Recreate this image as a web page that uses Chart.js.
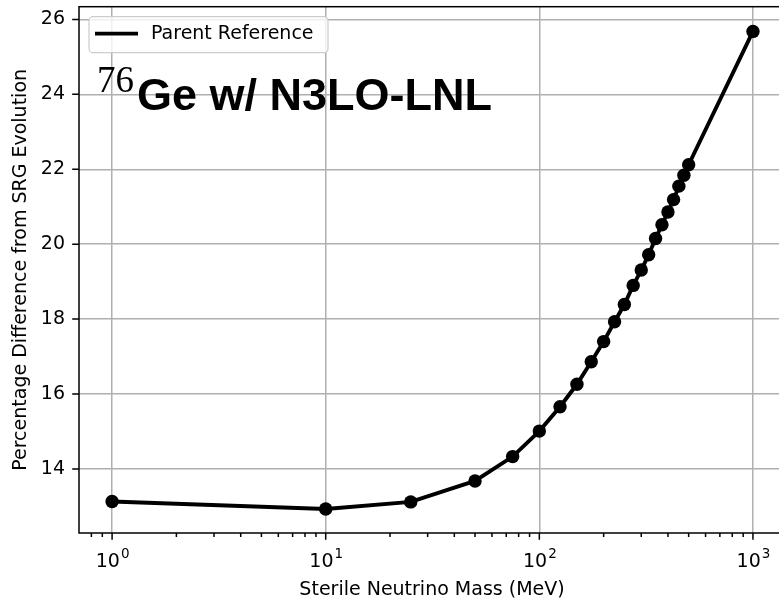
<!DOCTYPE html>
<html>
<head>
<meta charset="utf-8">
<script src="https://cdn.jsdelivr.net/npm/chart.js@4.4.1/dist/chart.umd.min.js"></script>
<style>
  html, body { margin: 0; padding: 0; background: #fff; overflow: hidden; }
  #wrap { width: 779px; height: 601px; overflow: hidden; }
</style>
</head>
<body>
<div id="wrap"><canvas id="srgChart" width="800" height="601"></canvas></div>
<script>
// sterile neutrino mass (MeV) and % difference from SRG evolution
const masses = [1, 10, 25, 50, 75, 100, 125, 150, 175, 200, 225, 250, 275, 300, 325, 350, 375, 400, 425, 450, 475, 500, 1000];
const pctDiff = [13.13, 12.93, 13.12, 13.68, 14.33, 15.01, 15.66, 16.26, 16.86, 17.40, 17.93, 18.39, 18.90, 19.31, 19.72, 20.15, 20.52, 20.86, 21.19, 21.55, 21.84, 22.12, 25.68];

const xMajorTicks = [1, 10, 100, 1000];
const xTickExponents = ['0', '1', '2', '3'];
const xMinorTicks = [0.8, 0.9, 2, 3, 4, 5, 6, 7, 8, 9, 20, 30, 40, 50, 60, 70, 80, 90, 200, 300, 400, 500, 600, 700, 800, 900];
const yTicks = [14, 16, 18, 20, 22, 24, 26];

const seriesLabel = 'Parent Reference';
const FONT = "'DejaVu Sans', sans-serif";

// frame, tick marks, 10^n labels, legend box and the nucleus annotation
const decor = {
  id: 'decor',
  afterDatasetsDraw(chart) {
    const { ctx, chartArea: a, scales: { x, y } } = chart;
    ctx.save();
    ctx.strokeStyle = '#000';
    ctx.lineWidth = 1.5;
    ctx.beginPath();
    xMajorTicks.forEach(v => {
      const px = x.getPixelForValue(v);
      ctx.moveTo(px, a.bottom); ctx.lineTo(px, a.bottom + 6.8);
    });
    xMinorTicks.forEach(v => {
      const px = x.getPixelForValue(v);
      ctx.moveTo(px, a.bottom); ctx.lineTo(px, a.bottom + 3.9);
    });
    yTicks.forEach(v => {
      const py = y.getPixelForValue(v);
      ctx.moveTo(a.left, py); ctx.lineTo(a.left - 6.8, py);
    });
    ctx.stroke();
    ctx.strokeRect(a.left, a.top, a.right - a.left, a.bottom - a.top);

    // x tick labels as 10 with superscript exponent
    ctx.fillStyle = '#000';
    ctx.textBaseline = 'alphabetic';
    ctx.textAlign = 'left';
    xMajorTicks.forEach((v, i) => {
      const px = x.getPixelForValue(v);
      ctx.font = '19px ' + FONT;
      const wBase = ctx.measureText('10').width;
      ctx.font = '13.5px ' + FONT;
      const wExp = ctx.measureText(xTickExponents[i]).width;
      const x0 = px - (wBase + wExp) / 2;
      ctx.font = '19px ' + FONT;
      ctx.fillText('10', x0, a.bottom + 34);
      ctx.font = '13.5px ' + FONT;
      ctx.fillText(xTickExponents[i], x0 + wBase + 1, a.bottom + 25);
    });

    // legend
    const lx = a.left + 10, ly = a.top + 10, lw = 239, lh = 36;
    ctx.beginPath();
    ctx.roundRect(lx, ly, lw, lh, 4);
    ctx.fillStyle = 'rgba(255,255,255,0.8)';
    ctx.fill();
    ctx.strokeStyle = '#cccccc';
    ctx.lineWidth = 1.2;
    ctx.stroke();
    ctx.beginPath();
    ctx.strokeStyle = '#000';
    ctx.lineWidth = 3.8;
    ctx.moveTo(lx + 6, ly + 17); ctx.lineTo(lx + 49, ly + 17);
    ctx.stroke();
    ctx.fillStyle = '#000';
    ctx.font = '19px ' + FONT;
    ctx.textBaseline = 'middle';
    ctx.fillText(chart.data.datasets[0].label, lx + 62, ly + 17);

    // annotation
    ctx.textBaseline = 'alphabetic';
    ctx.font = "37px 'Liberation Serif', serif";
    ctx.fillText('76', 97, 92);
    ctx.font = "bold 45px 'Liberation Sans', Arial, sans-serif";
    ctx.fillText('Ge w/ N3LO-LNL', 137, 110);
    ctx.restore();
  }
};

new Chart(document.getElementById('srgChart'), {
  type: 'scatter',
  data: {
    datasets: [{
      label: seriesLabel,
      data: masses.map((m, i) => ({ x: m, y: pctDiff[i] })),
      showLine: true,
      borderColor: '#000',
      borderWidth: 3.9,
      pointRadius: 6.7,
      pointHoverRadius: 6.7,
      pointBackgroundColor: '#000',
      pointBorderWidth: 0
    }]
  },
  options: {
    responsive: false,
    animation: false,
    devicePixelRatio: 1,
    layout: { padding: { left: 0, top: 6, right: 15, bottom: 0 } },
    plugins: { legend: { display: false }, tooltip: { enabled: false } },
    scales: {
      x: {
        type: 'logarithmic',
        min: Math.pow(10, -0.15),
        max: Math.pow(10, 3.15),
        afterBuildTicks: s => { s.ticks = xMajorTicks.map(v => ({ value: v, major: true })); },
        afterFit: s => { s.height = 68; s.paddingLeft = 0; s.paddingRight = 0; },
        ticks: { autoSkip: false, maxRotation: 0, display: false },
        grid: { color: '#b0b0b0', lineWidth: 1.5, drawTicks: false },
        border: { display: false },
        title: {
          display: true, text: 'Sterile Neutrino Mass (MeV)',
          color: '#000', font: { family: FONT, size: 19 }, padding: { top: 0, bottom: 0 }
        }
      },
      y: {
        min: 12.29,
        max: 26.34,
        afterBuildTicks: s => { s.ticks = yTicks.map(v => ({ value: v })); },
        afterFit: s => { s.width = 79; s.paddingTop = 0; s.paddingBottom = 0; },
        ticks: {
          padding: 14, color: '#000', font: { family: FONT, size: 19 },
          callback: v => String(v)
        },
        grid: { color: '#b0b0b0', lineWidth: 1.5, drawTicks: false },
        border: { display: false },
        title: {
          display: true, text: 'Percentage Difference from SRG Evolution',
          color: '#000', font: { family: FONT, size: 19 }, padding: { top: 10, bottom: 0 }
        }
      }
    }
  },
  plugins: [decor]
});
</script>
</body>
</html>
